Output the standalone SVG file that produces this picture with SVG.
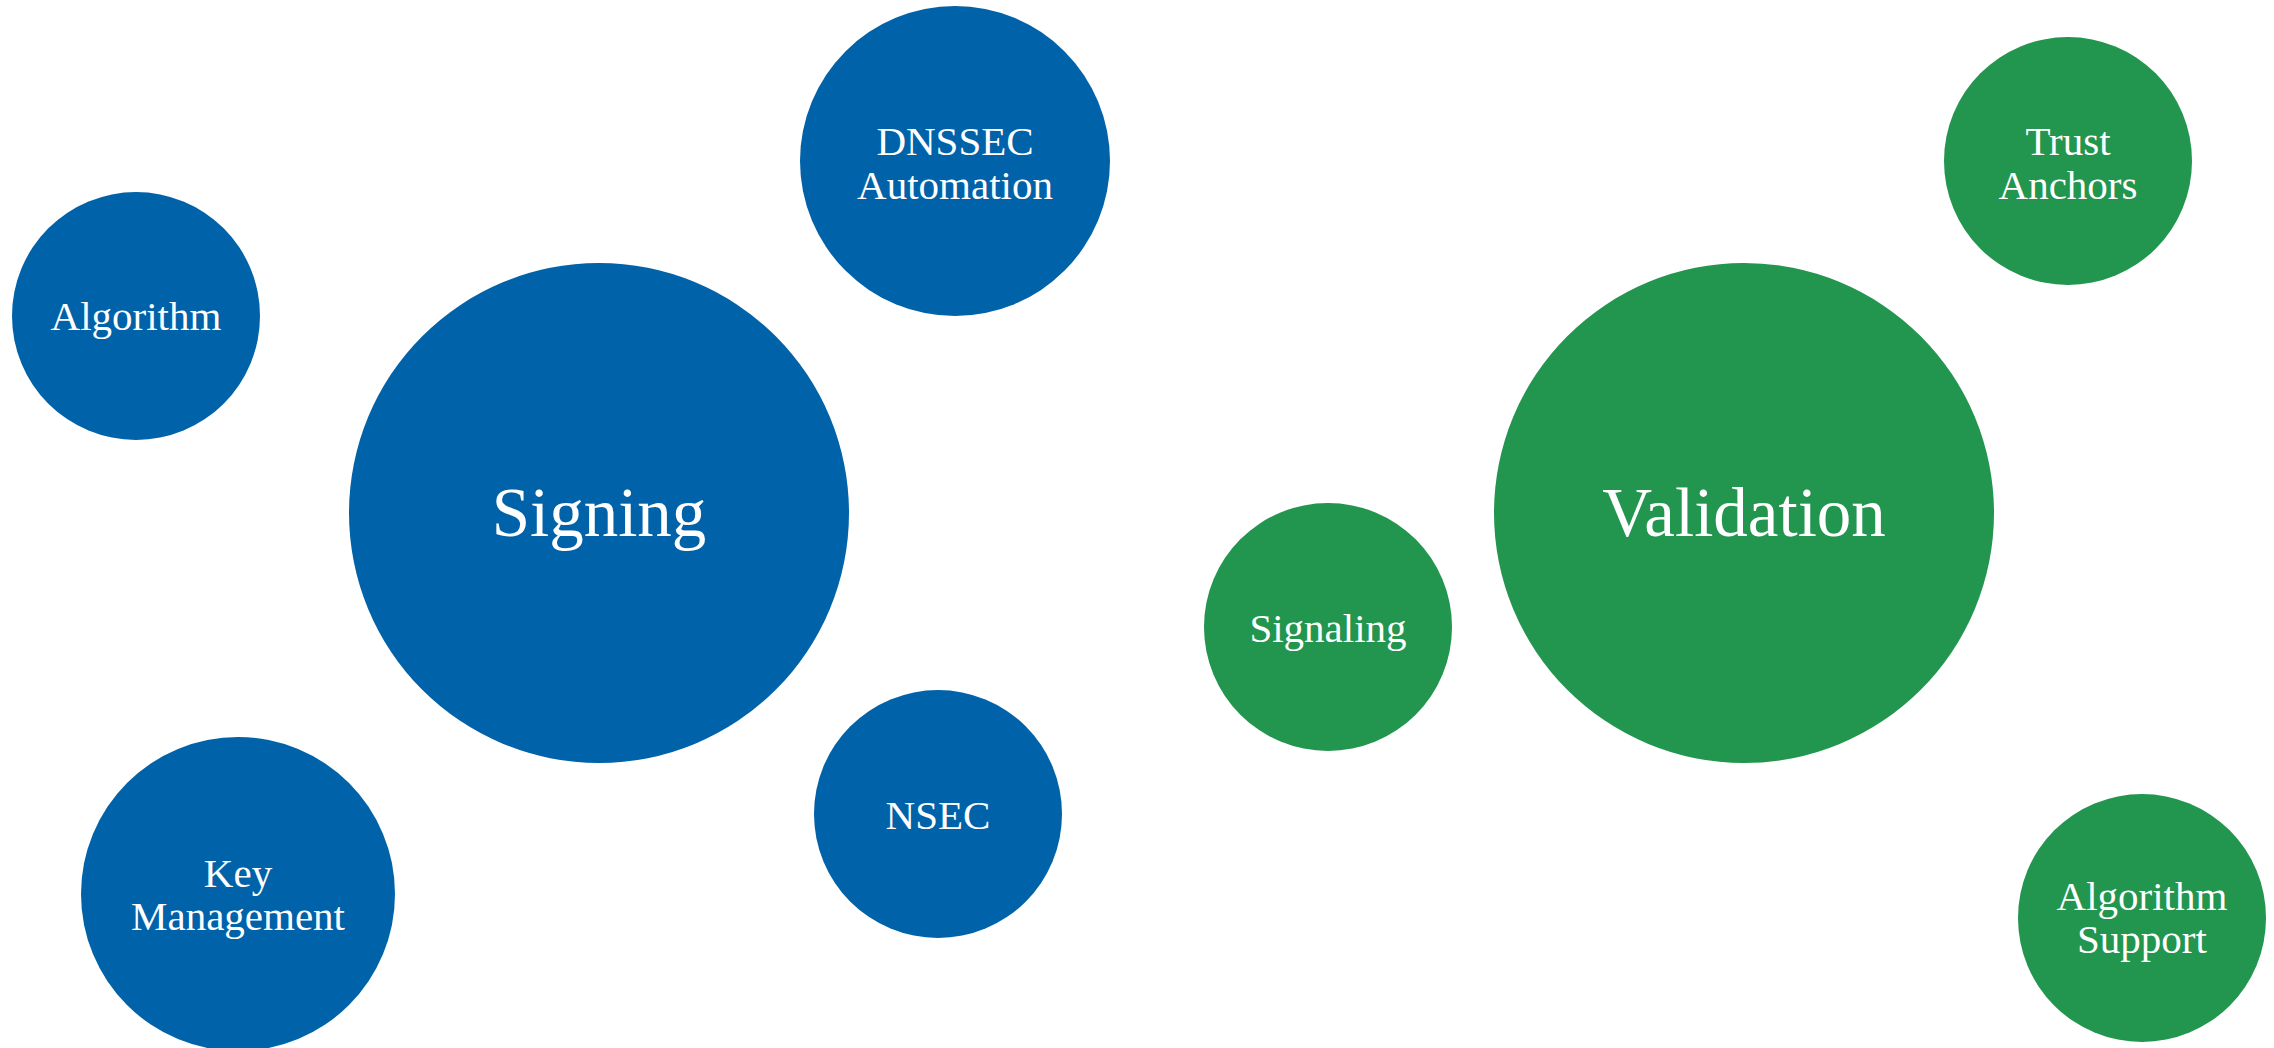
<svg xmlns="http://www.w3.org/2000/svg" width="2274" height="1048" viewBox="0 0 2274 1048">
<style>
.blue{fill:#0062A8}
.green{fill:#22954F}
text{font-family:"Liberation Serif","DejaVu Serif",serif;fill:#ffffff;text-anchor:middle}
.big{font-size:69px}
.sm{font-size:41px}
</style>
<rect width="2274" height="1048" fill="#ffffff"/>
<g id="connectors"></g>
<g id="signing"><circle class="blue" cx="599" cy="513" r="250"/><text class="big" x="599" y="536">Signing</text></g>
<g id="algorithm"><circle class="blue" cx="136" cy="316" r="124"/><text class="sm" x="136" y="330">Algorithm</text></g>
<g id="dnssec-automation"><circle class="blue" cx="955" cy="161" r="155"/><text class="sm" x="955" y="155">DNSSEC</text><text class="sm" x="955" y="199">Automation</text></g>
<g id="key-management"><circle class="blue" cx="238" cy="894" r="157"/><text class="sm" x="238" y="887">Key</text><text class="sm" x="238" y="930">Management</text></g>
<g id="nsec"><circle class="blue" cx="938" cy="814" r="124"/><text class="sm" x="938" y="829">NSEC</text></g>
<g id="validation"><circle class="green" cx="1744" cy="513" r="250"/><text class="big" x="1744" y="536">Validation</text></g>
<g id="signaling"><circle class="green" cx="1328" cy="627" r="124"/><text class="sm" x="1328" y="642">Signaling</text></g>
<g id="trust-anchors"><circle class="green" cx="2068" cy="161" r="124"/><text class="sm" x="2068" y="155">Trust</text><text class="sm" x="2068" y="199">Anchors</text></g>
<g id="algorithm-support"><circle class="green" cx="2142" cy="918" r="124"/><text class="sm" x="2142" y="910">Algorithm</text><text class="sm" x="2142" y="953">Support</text></g>
</svg>
